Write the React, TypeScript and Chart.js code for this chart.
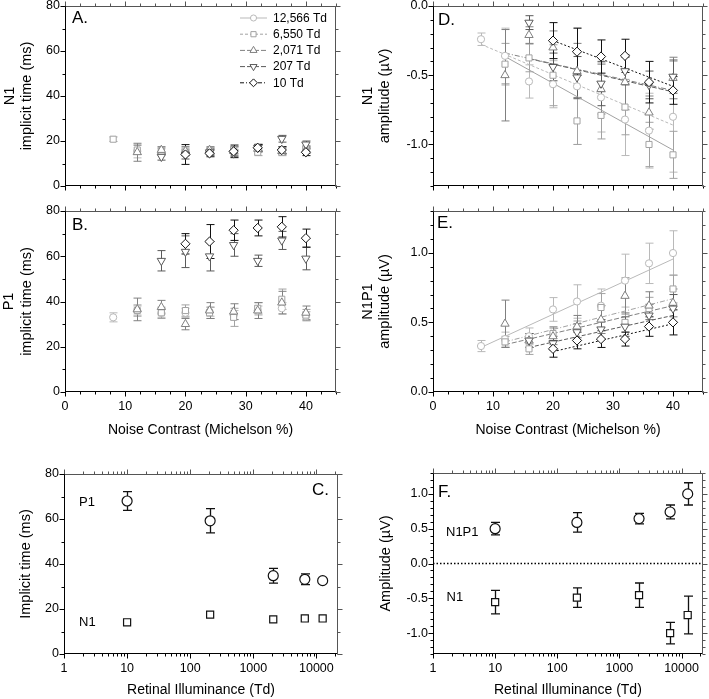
import React, { useEffect, useRef } from 'react';
import { Chart, registerables } from 'chart.js';

Chart.register(...registerables);

const FONT = '"Liberation Sans", Arial, Helvetica, sans-serif';

// ---------------- data ----------------
const CONTRAST = [8, 12, 16, 20, 24, 28, 32, 36, 40];
const SERIES = ['12,566 Td', '6,550 Td', '2,071 Td', '207 Td', '10 Td'];

// Panel A: N1 implicit time (ms); rows follow SERIES
const A_MEAN = [
  [null, 15.5, 15, 15.5, 15.5, 15.5, 17, 16, 16],
  [20.8, 16, 15.5, 15, 15.5, 16, 15, 15, 16.5],
  [null, 15, 16, 15.5, 16, 15.5, 16.5, 15.5, 16],
  [null, null, 13, 14, 15, 14.5, 17, 21, 18.5],
  [null, null, null, 14, 14.5, 15.4, 17, 16, 15],
];
const A_ERR = [
  [0, 3, 1.5, 1.5, 1.5, 1.5, 1.5, 1.5, 1.5],
  [1, 2, 1.5, 1.5, 1.5, 1.5, 1.5, 1.5, 1.5],
  [0, 4, 1.5, 2, 1.5, 2, 1.5, 1.5, 1.5],
  [0, 0, 1.5, 2, 1.5, 1.5, 1.5, 1.5, 1.5],
  [0, 0, 0, 4.4, 1.5, 2.8, 1.5, 1.5, 1.5],
];

// Panel B: P1 implicit time (ms)
const B_MEAN = [
  [33, 36, 35, 35, 35.5, 34, 36, 37, 33.5],
  [null, 36, 35, 36, 35, 33, 37, 41, 34],
  [null, 36.5, 37.5, 30, 36, 35.5, 36, 39.5, 35],
  [null, null, 58, 62, 60, 65, 58, 67, 59],
  [null, null, null, 65.5, 66.5, 71.5, 72.5, 73, 68],
];
const B_ERR = [
  [2, 2, 2, 2, 2, 2, 2, 2.5, 2],
  [0, 2.5, 2.5, 2.5, 2.5, 4, 2.5, 4.5, 2.5],
  [0, 5, 3, 2.5, 3.5, 3.5, 3.5, 5, 3],
  [0, 0, 4.5, 7, 6.5, 5, 2.5, 4, 5],
  [0, 0, 0, 4.5, 7.5, 4.5, 3.5, 4.5, 4],
];

// Panel D: N1 amplitude (µV)
const D_MEAN = [
  [-0.24, -0.36, -0.545, -0.565, -0.58, -0.66, -0.82, -0.9, -0.8],
  [null, -0.42, -0.375, -0.5, -0.83, -0.79, -0.73, -1.0, -1.075],
  [null, -0.5, -0.21, -0.3, -0.47, -0.6, -0.55, -0.77, -0.52],
  [null, null, -0.12, -0.44, -0.515, -0.56, -0.47, -0.57, -0.51],
  [null, null, null, -0.25, -0.33, -0.365, -0.36, -0.55, -0.61],
];
const D_ERR = [
  [0.045, 0.2, 0.12, 0.17, 0.42, 0.25, 0.26, 0.27, 0.4],
  [0, 0.15, 0.1, 0.22, 0.17, 0.17, 0.2, 0.16, 0.17],
  [0, 0.33, 0.06, 0.12, 0.2, 0.18, 0.2, 0.12, 0.15],
  [0, 0, 0.05, 0.1, 0.15, 0.16, 0.1, 0.1, 0.12],
  [0, 0, 0, 0.13, 0.17, 0.12, 0.12, 0.15, 0.1],
];
const D_FIT_X = [[8, 40], [12, 40], [12, 40], [16, 40], [20, 40]];
const D_FIT_Y = [[-0.277, -0.86], [-0.365, -1.04], [-0.34, -0.61], [-0.38, -0.62], [-0.25, -0.58]];

// Panel E: N1P1 amplitude (µV)
const E_MEAN = [
  [0.33, 0.38, 0.4, 0.593, 0.65, 0.62, 0.8, 0.924, 0.998],
  [null, 0.36, 0.31, 0.42, 0.45, 0.607, 0.5, 0.6, 0.74],
  [null, 0.49, 0.37, 0.4, 0.47, 0.52, 0.69, 0.62, 0.64],
  [null, null, 0.37, 0.35, 0.43, 0.45, 0.47, 0.55, 0.6],
  [null, null, null, 0.31, 0.37, 0.38, 0.38, 0.47, 0.5],
];
const E_ERR = [
  [0.04, 0.05, 0.06, 0.085, 0.12, 0.12, 0.19, 0.145, 0.16],
  [0, 0.04, 0.04, 0.05, 0.06, 0.1, 0.07, 0.08, 0.1],
  [0, 0.17, 0.05, 0.06, 0.08, 0.1, 0.13, 0.1, 0.1],
  [0, 0, 0.05, 0.05, 0.06, 0.07, 0.07, 0.08, 0.1],
  [0, 0, 0, 0.06, 0.06, 0.06, 0.05, 0.07, 0.09],
];
const E_FIT_X = [[8, 40], [12, 40], [12, 40], [16, 40], [20, 40]];
const E_FIT_Y = [[0.32, 0.955], [0.36, 0.67], [0.34, 0.62], [0.32, 0.55], [0.29, 0.49]];

// Panels C and F: versus retinal illuminance (Td)
const ILLUM = [10, 207, 2071, 6550, 12566];
const C_P1 = [68, 59.2, 34.8, 33.2, 32.6];
const C_P1_ERR = [4.2, 5.4, 3.3, 2.4, 0];
const C_N1 = [14.1, 17.5, 15.4, 15.8, 15.8];
const C_N1_ERR = [0, 0, 0, 0, 0];
const F_N1P1 = [0.5, 0.59, 0.645, 0.74, 1.0];
const F_N1P1_ERR = [0.09, 0.14, 0.075, 0.1, 0.16];
const F_N1 = [-0.555, -0.49, -0.455, -1.0, -0.74];
const F_N1_ERR = [0.17, 0.14, 0.175, 0.155, 0.27];
const F_ZERO_X = [1, 22000];
const F_ZERO_Y = [0, 0];

// tick labels
const CONTRAST_TICKS = [0, 10, 20, 30, 40];
const TIME_TICKS = [0, 20, 40, 60, 80];
const D_TICKS = [-1.0, -0.5, 0.0];
const E_TICKS = [0.0, 0.5, 1.0];
const F_TICKS = [-1.0, -0.5, 0.0, 0.5, 1.0];
const LOG_TICKS = [1, 10, 100, 1000, 10000];

// ---------------- styles ----------------
const STYLE = [
  { color: '#b9b9b9', dash: [] as number[], shape: 'circle', rot: 0, r: 3.6 },
  { color: '#a2a2a2', dash: [3, 2], shape: 'rect', rot: 0, r: 4.3 },
  { color: '#808080', dash: [5, 2], shape: 'triangle', rot: 0, r: 4.8 },
  { color: '#5a5a5a', dash: [5, 2], shape: 'triangle', rot: 180, r: 4.8 },
  { color: '#111111', dash: [4, 2, 1, 2], shape: 'rectRot', rot: 0, r: 4.6 },
];
// line dash used for the regression lines of panel D (differs from legend)
const D_FIT_DASH = [[3, 2], [], [5, 2, 1, 2], [5, 2], [2, 2]];
const E_FIT_DASH = [[], [5, 2, 1, 2], [5, 2], [4, 2], [2, 2]];

function steps(a: number, b: number, s: number): number[] {
  const out: number[] = [];
  for (let k = 0; a + k * s <= b + 1e-9; k++) out.push(+(a + k * s).toFixed(6));
  return out;
}
function logMinors(max: number): number[] {
  const out: number[] = [];
  for (const d of [1, 10, 100, 1000, 10000]) for (let m = 2; m <= 9; m++) if (m * d <= max) out.push(m * d);
  return out;
}

type Txt = { text: string; x: number; y: number; align?: CanvasTextAlign; size?: number };
type Panel = {
  box: { left: number; top: number; w: number; h: number };
  plot: { l: number; t: number; r: number; b: number };
  xLog?: boolean;
  xMin: number; xMax: number; xMajor: number[]; xMinor: number[]; xLabels: boolean;
  xTitle?: string; xTitlePad?: number;
  yMin: number; yMax: number; yMajor: number[]; yMinor: number[]; yFmt: (v: number) => string;
  yTitle: string | string[]; yTitlePad: number;
  datasets: any[];
  texts: Txt[];
  legend?: boolean;
};

function contrastDatasets(
  means: (number | null)[][], errs: number[][], fitX?: number[][], fitY?: number[][], fitDash?: number[][],
) {
  const out: any[] = [];
  SERIES.forEach((label, s) => {
    const st = STYLE[s];
    const pts: any[] = [];
    CONTRAST.forEach((x, i) => {
      const y = means[s][i];
      if (y !== null && y !== undefined) pts.push({ x, y, e: errs[s][i] });
    });
    out.push({
      label, data: pts, showLine: false, errorBars: true, order: -s,
      pointStyle: st.shape, pointRotation: st.rot, pointRadius: st.r,
      borderColor: st.color, backgroundColor: '#ffffff', borderWidth: 1,
      pointBorderColor: st.color, pointBackgroundColor: '#ffffff', pointBorderWidth: 1,
    });
    if (fitX && fitY) {
      out.push({
        label: label + ' fit', data: fitX[s].map((x, k) => ({ x, y: fitY[s][k] })),
        showLine: true, pointRadius: 0, borderColor: st.color, borderWidth: 1,
        borderDash: fitDash ? fitDash[s] : st.dash, order: 10,
      });
    }
  });
  return out;
}

function illumDataset(label: string, vals: number[], errs: number[], shape: string) {
  return {
    label, data: ILLUM.map((x, i) => ({ x, y: vals[i], e: errs[i] })), showLine: false, errorBars: true,
    pointStyle: shape, pointRadius: 5, borderColor: '#111', backgroundColor: '#fff', borderWidth: 1.2,
    pointBorderColor: '#111', pointBackgroundColor: '#fff', pointBorderWidth: 1.2, order: 0,
  };
}

const intFmt = (v: number) => String(v);
const decFmt = (v: number) => v.toFixed(1);

const PANELS: Panel[] = [
  {
    box: { left: 0, top: -4, w: 350, h: 200 },
    plot: { l: 65, t: 6, r: 336, b: 186 },
    xMin: 0, xMax: 45, xMajor: CONTRAST_TICKS, xMinor: steps(0, 45, 2.5), xLabels: false,
    yMin: 0, yMax: 80, yMajor: TIME_TICKS, yMinor: steps(0, 80, 10), yFmt: intFmt,
    yTitle: ['N1', 'implicit time (ms)'], yTitlePad: 1.3,
    datasets: contrastDatasets(A_MEAN, A_ERR),
    texts: [{ text: 'A.', x: 72, y: 18, size: 17 }],
    legend: true,
  },
  {
    box: { left: 0, top: 198, w: 350, h: 247 },
    plot: { l: 65, t: 211, r: 336, b: 392 },
    xMin: 0, xMax: 45, xMajor: CONTRAST_TICKS, xMinor: steps(0, 45, 2.5), xLabels: true,
    xTitle: 'Noise Contrast (Michelson %)', xTitlePad: 6.3,
    yMin: 0, yMax: 80, yMajor: TIME_TICKS, yMinor: steps(0, 80, 10), yFmt: intFmt,
    yTitle: ['P1', 'implicit time (ms)'], yTitlePad: 0.5,
    datasets: contrastDatasets(B_MEAN, B_ERR),
    texts: [{ text: 'B.', x: 72, y: 225, size: 17 }],
  },
  {
    box: { left: 0, top: 455, w: 350, h: 244 },
    plot: { l: 64, t: 474, r: 338, b: 654 },
    xLog: true, xMin: 1, xMax: 22000, xMajor: LOG_TICKS, xMinor: logMinors(22000), xLabels: true,
    xTitle: 'Retinal Illuminance (Td)', xTitlePad: 0.3,
    yMin: 0, yMax: 80, yMajor: TIME_TICKS, yMinor: steps(0, 80, 10), yFmt: intFmt,
    yTitle: 'Implicit time (ms)', yTitlePad: 17.3,
    datasets: [illumDataset('P1', C_P1, C_P1_ERR, 'circle'), illumDataset('N1', C_N1, C_N1_ERR, 'rect')],
    texts: [
      { text: 'C.', x: 329, y: 490, size: 17, align: 'right' },
      { text: 'P1', x: 79, y: 502, size: 13 },
      { text: 'N1', x: 79, y: 622.5, size: 13 },
    ],
  },
  {
    box: { left: 355, top: -4, w: 354, h: 200 },
    plot: { l: 433, t: 6, r: 703, b: 186 },
    xMin: 0, xMax: 45, xMajor: CONTRAST_TICKS, xMinor: steps(0, 45, 2.5), xLabels: false,
    yMin: -1.3, yMax: 0, yMajor: D_TICKS, yMinor: steps(-1.3, 0, 0.1), yFmt: decFmt,
    yTitle: ['N1', 'amplitude (µV)'], yTitlePad: 3.8,
    datasets: contrastDatasets(D_MEAN, D_ERR, D_FIT_X, D_FIT_Y, D_FIT_DASH),
    texts: [{ text: 'D.', x: 438, y: 20, size: 17 }],
  },
  {
    box: { left: 355, top: 198, w: 354, h: 247 },
    plot: { l: 433, t: 211, r: 703, b: 392 },
    xMin: 0, xMax: 45, xMajor: CONTRAST_TICKS, xMinor: steps(0, 45, 2.5), xLabels: true,
    xTitle: 'Noise Contrast (Michelson %)', xTitlePad: 6.3,
    yMin: 0, yMax: 1.3, yMajor: E_TICKS, yMinor: steps(0, 1.3, 0.1), yFmt: decFmt,
    yTitle: ['N1P1', 'amplitude (µV)'], yTitlePad: 4.3,
    datasets: contrastDatasets(E_MEAN, E_ERR, E_FIT_X, E_FIT_Y, E_FIT_DASH),
    texts: [{ text: 'E.', x: 437, y: 223, size: 17 }],
  },
  {
    box: { left: 355, top: 455, w: 354, h: 244 },
    plot: { l: 433, t: 473, r: 703, b: 654 },
    xLog: true, xMin: 1, xMax: 22000, xMajor: LOG_TICKS, xMinor: logMinors(22000), xLabels: true,
    xTitle: 'Retinal Illuminance (Td)', xTitlePad: 0.3,
    yMin: -1.3, yMax: 1.3, yMajor: F_TICKS, yMinor: steps(-1.3, 1.3, 0.1), yFmt: decFmt,
    yTitle: 'Amplitude (µV)', yTitlePad: 22.3,
    datasets: [
      illumDataset('N1P1', F_N1P1, F_N1P1_ERR, 'circle'),
      illumDataset('N1', F_N1, F_N1_ERR, 'rect'),
      {
        label: 'zero', data: F_ZERO_X.map((x, i) => ({ x, y: F_ZERO_Y[i] })), showLine: true, pointRadius: 0,
        borderColor: '#000', borderWidth: 1.5, borderDash: [1.5, 2], order: 10,
      },
    ],
    texts: [
      { text: 'F.', x: 438, y: 492, size: 17 },
      { text: 'N1P1', x: 446, y: 532, size: 13 },
      { text: 'N1', x: 446.5, y: 597, size: 13 },
    ],
  },
];

// ---------------- drawing helpers ----------------
function drawMarker(ctx: CanvasRenderingContext2D, shape: string, rot: number, x: number, y: number, r: number, color: string) {
  ctx.save();
  ctx.setLineDash([]);
  ctx.strokeStyle = color;
  ctx.fillStyle = '#fff';
  ctx.lineWidth = 1;
  ctx.beginPath();
  if (shape === 'circle') {
    ctx.arc(x, y, r, 0, Math.PI * 2);
  } else if (shape === 'rect') {
    const s = r * Math.SQRT1_2;
    ctx.rect(x - s, y - s, 2 * s, 2 * s);
  } else if (shape === 'rectRot') {
    ctx.moveTo(x, y - r); ctx.lineTo(x + r, y); ctx.lineTo(x, y + r); ctx.lineTo(x - r, y); ctx.closePath();
  } else {
    let a = (rot * Math.PI) / 180;
    ctx.moveTo(x + Math.sin(a) * r, y - Math.cos(a) * r);
    a += (2 * Math.PI) / 3;
    ctx.lineTo(x + Math.sin(a) * r, y - Math.cos(a) * r);
    a += (2 * Math.PI) / 3;
    ctx.lineTo(x + Math.sin(a) * r, y - Math.cos(a) * r);
    ctx.closePath();
  }
  ctx.fill();
  ctx.stroke();
  ctx.restore();
}

const snap = (v: number) => Math.round(v) + 0.5;

function makePlugins(p: Panel) {
  const errorBars = {
    id: 'errorBars',
    beforeDatasetsDraw(chart: any) {
      const { ctx } = chart;
      const ys = chart.scales.y;
      ctx.save();
      ctx.setLineDash([]);
      chart.data.datasets.forEach((ds: any, i: number) => {
        if (!ds.errorBars) return;
        const meta = chart.getDatasetMeta(i);
        meta.data.forEach((el: any, j: number) => {
          const raw = ds.data[j];
          if (!raw || !raw.e) return;
          const y1 = ys.getPixelForValue(raw.y + raw.e);
          const y2 = ys.getPixelForValue(raw.y - raw.e);
          const x = snap(el.x);
          const cap = ds.borderWidth > 1 ? 4.5 : 4;
          ctx.strokeStyle = ds.borderColor;
          ctx.lineWidth = ds.borderWidth > 1 ? 1.3 : 1;
          ctx.beginPath();
          ctx.moveTo(x, y1); ctx.lineTo(x, y2);
          ctx.moveTo(x - cap, y1); ctx.lineTo(x + cap, y1);
          ctx.moveTo(x - cap, y2); ctx.lineTo(x + cap, y2);
          ctx.stroke();
        });
      });
      ctx.restore();
    },
  };

  const frame = {
    id: 'frame',
    afterDraw(chart: any) {
      const { ctx, chartArea } = chart;
      const xs = chart.scales.x, ys = chart.scales.y;
      const L = snap(chartArea.left), R = snap(chartArea.right - 1), T = snap(chartArea.top), B = snap(chartArea.bottom - 1);
      const DARK = '#000', MIRROR = '#555';
      ctx.save();
      ctx.setLineDash([]);
      ctx.lineWidth = 1;
      const seg = (x1: number, y1: number, x2: number, y2: number, c: string) => {
        ctx.strokeStyle = c; ctx.beginPath(); ctx.moveTo(x1, y1); ctx.lineTo(x2, y2); ctx.stroke();
      };
      seg(L, T, R, T, MIRROR);
      seg(R, T, R, B, MIRROR);
      seg(L, T, L, B + 0.5, DARK);
      seg(L - 0.5, B, R, B, DARK);
      const xTick = (v: number, len: number) => {
        const px = snap(xs.getPixelForValue(v));
        seg(px, B, px, B + len, DARK);
        seg(px, T, px, T - len, MIRROR);
      };
      const yTick = (v: number, len: number) => {
        const py = snap(ys.getPixelForValue(v));
        seg(L, py, L - len, py, DARK);
        seg(R, py, R + len, py, MIRROR);
      };
      p.xMinor.forEach((v) => xTick(v, 3));
      p.xMajor.forEach((v) => xTick(v, 5));
      p.yMinor.forEach((v) => yTick(v, 3));
      p.yMajor.forEach((v) => yTick(v, 5));
      ctx.restore();
    },
  };

  const texts = {
    id: 'texts',
    afterDraw(chart: any) {
      const { ctx } = chart;
      ctx.save();
      ctx.fillStyle = '#000';
      ctx.textBaseline = 'middle';
      for (const t of p.texts) {
        ctx.font = `${t.size || 13}px ${FONT}`;
        ctx.textAlign = t.align || 'left';
        ctx.fillText(t.text, t.x - p.box.left, t.y - p.box.top);
      }
      if (p.legend) {
        SERIES.forEach((label, s) => {
          const st = STYLE[s];
          const y = 18 + 16.2 * s - p.box.top;
          const x0 = 240 - p.box.left, x1 = 267 - p.box.left;
          ctx.strokeStyle = st.color;
          ctx.lineWidth = 1;
          ctx.setLineDash(st.dash);
          ctx.beginPath(); ctx.moveTo(x0, y); ctx.lineTo(x1, y); ctx.stroke();
          ctx.setLineDash([]);
          drawMarker(ctx, st.shape, st.rot, (x0 + x1) / 2, y, st.r * 0.85, st.color);
          ctx.fillStyle = '#000';
          ctx.font = `12px ${FONT}`;
          ctx.textAlign = 'left';
          ctx.fillText(label, 273 - p.box.left, y + 0.5);
        });
      }
      ctx.restore();
    },
  };
  return [errorBars, frame, texts];
}

function buildConfig(p: Panel): any {
  const yW = p.plot.l - p.box.left;
  const xH = p.box.top + p.box.h - p.plot.b;
  const padTop = p.plot.t - p.box.top;
  const padRight = p.box.left + p.box.w - p.plot.r;
  const grid = { display: true, drawOnChartArea: false, drawTicks: true, tickLength: 5, color: 'rgba(0,0,0,0)' };
  return {
    type: 'scatter',
    data: { datasets: p.datasets },
    options: {
      animation: false,
      responsive: false,
      maintainAspectRatio: false,
      events: [],
      layout: { padding: { top: padTop, right: padRight, bottom: 0, left: 0 } },
      plugins: { legend: { display: false }, tooltip: { enabled: false } },
      scales: {
        x: {
          type: p.xLog ? 'logarithmic' : 'linear',
          min: p.xMin, max: p.xMax,
          afterBuildTicks: (s: any) => { s.ticks = p.xMajor.map((v) => ({ value: v })); },
          afterFit: (s: any) => { s.height = xH; },
          grid, border: { display: false },
          ticks: {
            display: p.xLabels, autoSkip: false, maxRotation: 0, minRotation: 0, padding: 2, color: '#000',
            font: { size: 12.5, family: FONT }, callback: (v: any) => String(v),
          },
          title: {
            display: !!p.xTitle, text: p.xTitle || '', color: '#000',
            font: { size: 14, family: FONT, lineHeight: 1.2 }, padding: { top: 0, bottom: p.xTitlePad || 0 },
          },
        },
        y: {
          type: 'linear', min: p.yMin, max: p.yMax,
          afterBuildTicks: (s: any) => { s.ticks = p.yMajor.map((v) => ({ value: v })); },
          afterFit: (s: any) => { s.width = yW; },
          grid, border: { display: false },
          ticks: {
            autoSkip: false, padding: 0, color: '#000', font: { size: 12.5, family: FONT },
            callback: (v: any) => p.yFmt(Number(v)),
          },
          title: {
            display: true, text: p.yTitle, color: '#000',
            font: { size: 14.5, family: FONT, lineHeight: 1.2 }, padding: { top: p.yTitlePad, bottom: 0 },
          },
        },
      },
    },
    plugins: makePlugins(p),
  };
}

function PanelChart({ p }: { p: Panel }) {
  const ref = useRef<HTMLCanvasElement>(null);
  useEffect(() => {
    const chart = new Chart(ref.current as HTMLCanvasElement, buildConfig(p));
    return () => chart.destroy();
  }, [p]);
  return (
    <canvas
      ref={ref}
      width={p.box.w}
      height={p.box.h}
      style={{ position: 'absolute', left: p.box.left, top: p.box.top, width: p.box.w, height: p.box.h }}
    />
  );
}

export default function App() {
  return (
    <div style={{ position: 'fixed', left: 0, top: 0, width: 709, height: 699, background: '#fff', overflow: 'hidden' }}>
      {PANELS.map((p, i) => (
        <PanelChart key={i} p={p} />
      ))}
    </div>
  );
}
